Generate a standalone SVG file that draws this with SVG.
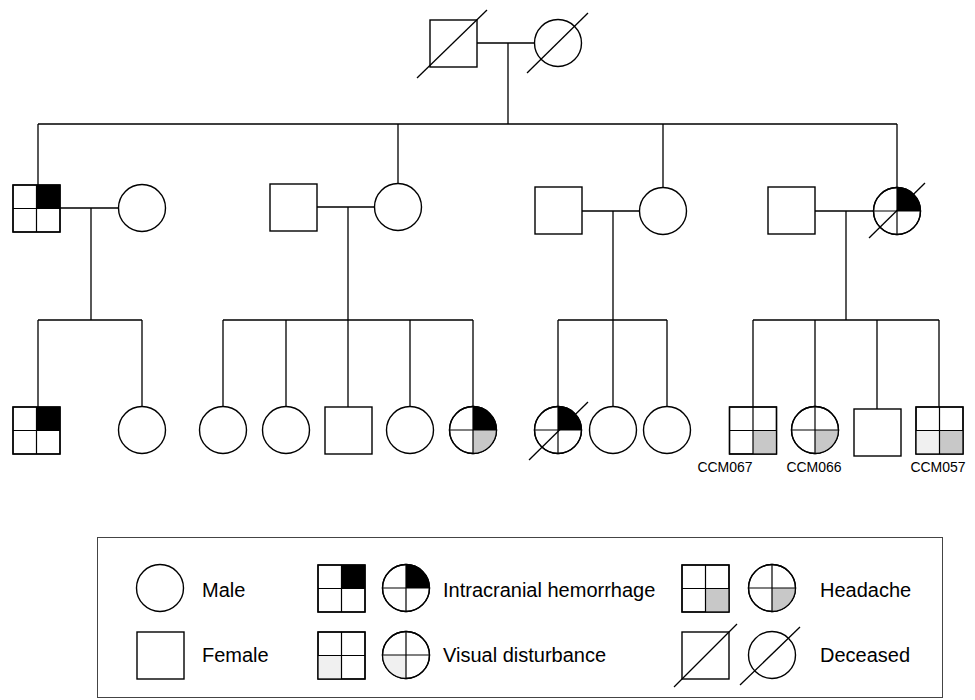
<svg xmlns="http://www.w3.org/2000/svg" width="975" height="700" viewBox="0 0 975 700">
<style>
.ln{stroke:#000;stroke-width:1.3;fill:none}
.sym{fill:#fff;stroke:#000;stroke-width:1.4}
.q{stroke:#000;stroke-width:1.2;fill:none}
.blk{fill:#000}
.hd{fill:#c8c8c8}
.vd{fill:#f0f0f0}
.txt{font-family:"Liberation Sans",Arial,sans-serif;font-size:20px;fill:#000}
.lbl{font-family:"Liberation Sans",Arial,sans-serif;font-size:14px;fill:#000;text-anchor:middle}
</style>
<rect width="975" height="700" fill="#fff"/>
<g id="connectors">
<path class="ln" d="M477 43H535M508 43V124M38 124H897M38 124V185M398 124V183.5M663 124V187.5M897 124V187.5"/>
<path class="ln" d="M60 208H118.5M91 208V320M38 320H142M38 320V407M142 320V406.5"/>
<path class="ln" d="M317 207H374.5M348 207V320M223 320H473M223 320V406.5M286 320V406.5M348 320V407M410 320V406.5M473 320V406.5"/>
<path class="ln" d="M582 211H639.5M613 211V320M558 320H667M558 320V406.5M613 320V406.5M667 320V406.5"/>
<path class="ln" d="M815 211H873.5M846 211V320M753 320H939M753 320V407M815 320V406.5M877 320V409M939 320V407"/>
</g>
<g id="I1"><rect class="sym" x="430" y="20" width="47" height="47"/><line class="ln" x1="417" y1="78" x2="487" y2="10"/></g>
<g id="I2"><circle class="sym" cx="558" cy="43" r="23.5"/><line class="ln" x1="527" y1="73" x2="588" y2="13"/></g>
<g id="II1"><rect class="sym" x="13" y="185" width="47" height="47"/><rect class="blk" x="36.5" y="185" width="23.5" height="23.5"/><path class="q" d="M36.5 185V232M13 208.5H60"/><rect class="ln" x="13" y="185" width="47" height="47"/></g>
<g id="II2"><circle class="sym" cx="142" cy="208" r="23.5"/></g>
<g id="II3"><rect class="sym" x="270" y="184" width="47" height="47"/></g>
<g id="II4"><circle class="sym" cx="398" cy="207" r="23.5"/></g>
<g id="II5"><rect class="sym" x="535" y="187" width="47" height="47"/></g>
<g id="II6"><circle class="sym" cx="663" cy="211" r="23.5"/></g>
<g id="II7"><rect class="sym" x="768" y="187" width="47" height="47"/></g>
<g id="II8"><circle class="sym" cx="897" cy="211" r="23.5"/><path class="blk" d="M897 211V187.5A23.5 23.5 0 0 1 920.5 211Z"/><path class="q" d="M897 187.5V234.5M873.5 211H920.5"/><circle class="ln" cx="897" cy="211" r="23.5"/><line class="ln" x1="869" y1="238" x2="925" y2="183"/></g>
<g id="III1"><rect class="sym" x="13" y="407" width="47" height="47"/><rect class="blk" x="36.5" y="407" width="23.5" height="23.5"/><path class="q" d="M36.5 407V454M13 430.5H60"/><rect class="ln" x="13" y="407" width="47" height="47"/></g>
<g id="III2"><circle class="sym" cx="142" cy="430" r="23.5"/></g>
<g id="III3"><circle class="sym" cx="223" cy="430" r="23.5"/></g>
<g id="III4"><circle class="sym" cx="286" cy="430" r="23.5"/></g>
<g id="III5"><rect class="sym" x="325" y="407" width="47" height="47"/></g>
<g id="III6"><circle class="sym" cx="410" cy="430" r="23.5"/></g>
<g id="III7"><circle class="sym" cx="473" cy="430" r="23.5"/><path class="blk" d="M473 430V406.5A23.5 23.5 0 0 1 496.5 430Z"/><path class="hd" d="M473 430H496.5A23.5 23.5 0 0 1 473 453.5Z"/><path class="q" d="M473 406.5V453.5M449.5 430H496.5"/><circle class="ln" cx="473" cy="430" r="23.5"/></g>
<g id="III8"><circle class="sym" cx="558" cy="430" r="23.5"/><path class="blk" d="M558 430V406.5A23.5 23.5 0 0 1 581.5 430Z"/><path class="q" d="M558 406.5V453.5M534.5 430H581.5"/><circle class="ln" cx="558" cy="430" r="23.5"/><line class="ln" x1="529" y1="460" x2="588" y2="402"/></g>
<g id="III9"><circle class="sym" cx="613" cy="430" r="23.5"/></g>
<g id="III10"><circle class="sym" cx="667" cy="430" r="23.5"/></g>
<g id="III11"><rect class="sym" x="729.5" y="407" width="47" height="47"/><rect class="hd" x="753" y="430.5" width="23.5" height="23.5"/><path class="q" d="M753 407V454M729.5 430.5H776.5"/><rect class="ln" x="729.5" y="407" width="47" height="47"/><text class="lbl" x="725" y="472">CCM067</text></g>
<g id="III12"><circle class="sym" cx="815" cy="430" r="23.5"/><path class="hd" d="M815 430H838.5A23.5 23.5 0 0 1 815 453.5Z"/><path class="q" d="M815 406.5V453.5M791.5 430H838.5"/><circle class="ln" cx="815" cy="430" r="23.5"/><text class="lbl" x="814" y="472">CCM066</text></g>
<g id="III13"><rect class="sym" x="854" y="409" width="47" height="47"/></g>
<g id="III14"><rect class="sym" x="916" y="407" width="47" height="47"/><rect class="vd" x="916" y="430.5" width="23.5" height="23.5"/><rect class="hd" x="939.5" y="430.5" width="23.5" height="23.5"/><path class="q" d="M939.5 407V454M916 430.5H963"/><rect class="ln" x="916" y="407" width="47" height="47"/><text class="lbl" x="938" y="472">CCM057</text></g>
<g id="legend">
<rect x="97.5" y="537.5" width="845" height="160" fill="none" stroke="#444" stroke-width="1"/>
<circle class="sym" cx="160" cy="588" r="23.5"/>
<text class="txt" x="202" y="597">Male</text>
<rect class="sym" x="137" y="632" width="47" height="47"/>
<text class="txt" x="202" y="662">Female</text>
<rect class="sym" x="318" y="565" width="47" height="47"/><rect class="blk" x="341.5" y="565" width="23.5" height="23.5"/><path class="q" d="M341.5 565V612M318 588.5H365"/><rect class="ln" x="318" y="565" width="47" height="47"/>
<circle class="sym" cx="406" cy="588" r="23.5"/><path class="blk" d="M406 588V564.5A23.5 23.5 0 0 1 429.5 588Z"/><path class="q" d="M406 564.5V611.5M382.5 588H429.5"/><circle class="ln" cx="406" cy="588" r="23.5"/>
<text class="txt" x="443" y="597">Intracranial hemorrhage</text>
<rect class="sym" x="318" y="632" width="47" height="47"/><rect class="vd" x="318" y="655.5" width="23.5" height="23.5"/><path class="q" d="M341.5 632V679M318 655.5H365"/><rect class="ln" x="318" y="632" width="47" height="47"/>
<circle class="sym" cx="406" cy="655" r="23.5"/><path class="vd" d="M406 655V678.5A23.5 23.5 0 0 1 382.5 655Z"/><path class="q" d="M406 631.5V678.5M382.5 655H429.5"/><circle class="ln" cx="406" cy="655" r="23.5"/>
<text class="txt" x="443" y="662">Visual disturbance</text>
<rect class="sym" x="682" y="565" width="47" height="47"/><rect class="hd" x="705.5" y="588.5" width="23.5" height="23.5"/><path class="q" d="M705.5 565V612M682 588.5H729"/><rect class="ln" x="682" y="565" width="47" height="47"/>
<circle class="sym" cx="772" cy="588" r="23.5"/><path class="hd" d="M772 588H795.5A23.5 23.5 0 0 1 772 611.5Z"/><path class="q" d="M772 564.5V611.5M748.5 588H795.5"/><circle class="ln" cx="772" cy="588" r="23.5"/>
<text class="txt" x="820" y="597">Headache</text>
<rect class="sym" x="682" y="632" width="47" height="47"/><line class="ln" x1="674" y1="687" x2="737" y2="624"/>
<circle class="sym" cx="772" cy="655" r="23.5"/><line class="ln" x1="740" y1="685" x2="800" y2="627"/>
<text class="txt" x="820" y="662">Deceased</text>
</g>
</svg>
